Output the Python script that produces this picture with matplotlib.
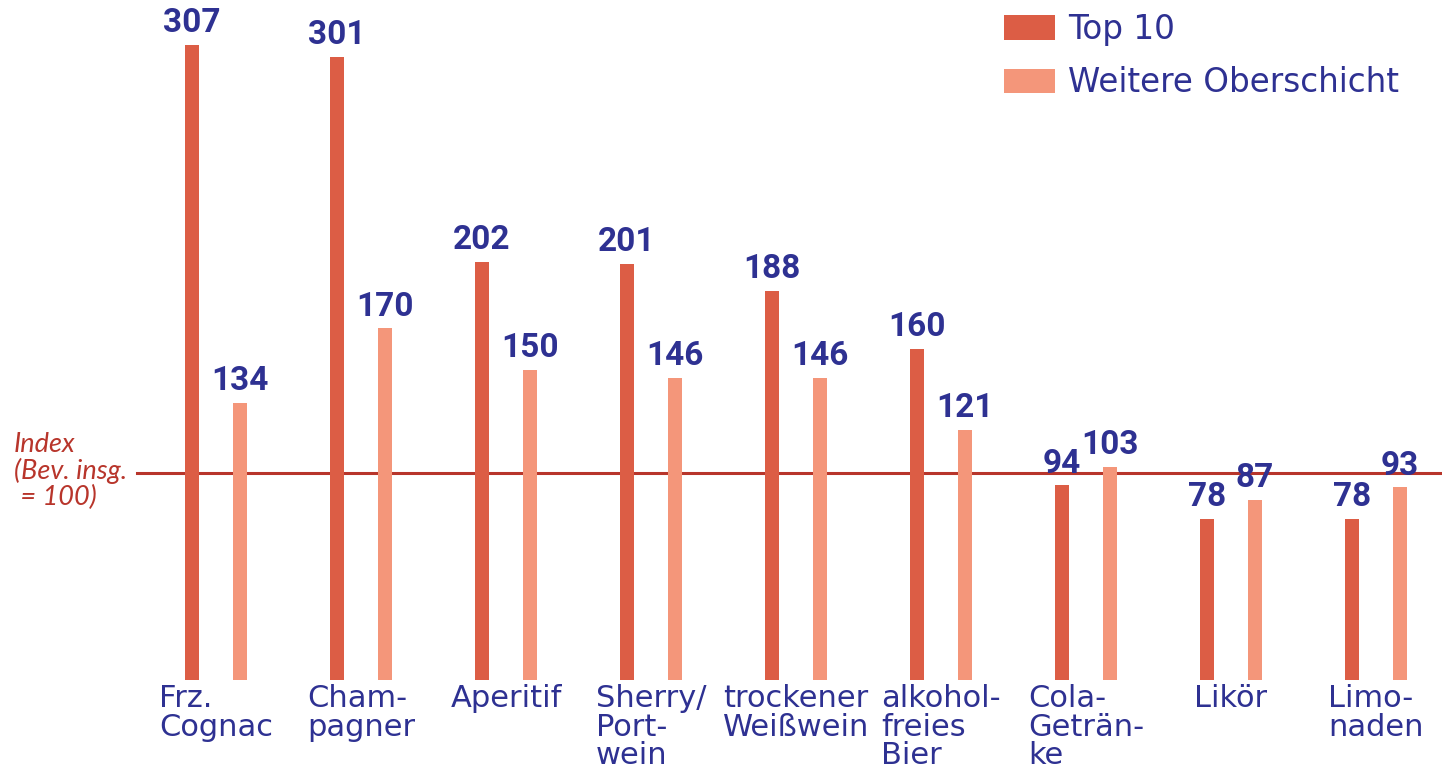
import matplotlib
matplotlib.use("Agg")
import matplotlib.pyplot as plt
import numpy as np

categories = ["Frz.\nCognac", "Cham-\npagner", "Aperitif", "Sherry/\nPort-\nwein",
              "trockener\nWeißwein", "alkohol-\nfreies\nBier", "Cola-\nGeträn-\nke",
              "Likör", "Limo-\nnaden"]
top10 = [307, 301, 202, 201, 188, 160, 94, 78, 78]
weitere = [134, 170, 150, 146, 146, 121, 103, 87, 93]
series_names = ["Top 10", "Weitere Oberschicht"]
index_label = "Index\n(Bev. insg.\n = 100)"
index_value = 100

C_DARK = "#DC5D45"
C_LIGHT = "#F4967A"
C_TEXT = "#2E3192"
C_LINE = "#B8352B"

W, H = 1442, 770
fig = plt.figure(figsize=(W / 100, H / 100), dpi=100)
ax = fig.add_axes([0, 0, 1, 1])
ax.axis("off")

step = 145.0
x0 = 216.0
base_px = 90.0
scale = 2.07
ax.set_xlim(-x0 / step, (W - x0) / step)
ax.set_ylim(-base_px / scale, (H - base_px) / scale)

x = np.arange(len(categories))
off = 24 / step
bw = 14 / step
b1 = ax.bar(x - off, top10, bw, color=C_DARK, label=series_names[0], zorder=2)
b2 = ax.bar(x + off, weitere, bw, color=C_LIGHT, label=series_names[1], zorder=2)

ax.axhline(index_value, xmin=137 / W, xmax=1, color=C_LINE, lw=2.2, zorder=1)
ax.text(14 / step - x0 / step, index_value + 1, index_label, color=C_LINE,
        fontsize=19.5, style="italic", family="Lato", ha="left", va="center",
        linespacing=1.05)

num_font = dict(family="Roboto", weight="bold", fontsize=24, color=C_TEXT)
for bars, vals in ((b1, top10), (b2, weitere)):
    for r, v in zip(bars, vals):
        ax.annotate(str(v), (r.get_x() + r.get_width() / 2, v), xytext=(0, 4),
                    textcoords="offset points", ha="center", va="bottom", **num_font)

for i, c in enumerate(categories):
    ax.annotate(c, (i, 0), xytext=(0, -3), textcoords="offset points",
                ha="center", va="top", multialignment="left", color=C_TEXT,
                fontsize=22, family="DejaVu Sans", linespacing=0.98)

leg = ax.legend(loc="upper left", bbox_to_anchor=(1004 / W, 1 - 13 / H),
                frameon=False, prop=dict(family="DejaVu Sans", size=23.5),
                handlelength=1.55, handleheight=0.78, handletextpad=0.4,
                labelspacing=0.62, borderaxespad=0, borderpad=0)
for t in leg.get_texts():
    t.set_color(C_TEXT)

fig.savefig("out.png", dpi=100)
